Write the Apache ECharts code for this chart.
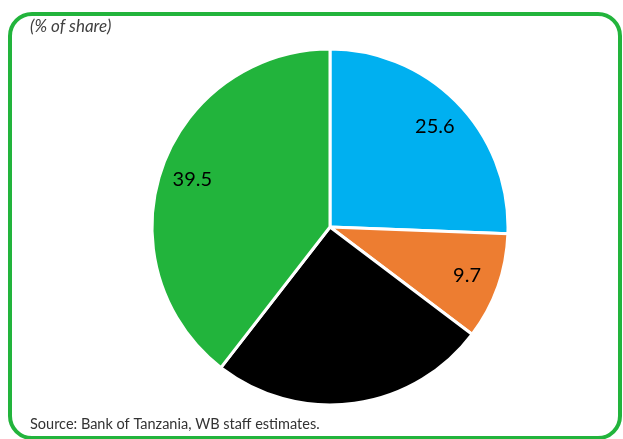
<!DOCTYPE html>
<html>
<head>
<meta charset="utf-8">
<script src="https://cdn.jsdelivr.net/npm/echarts@6/dist/echarts.min.js"></script>
<style>
  html, body { margin: 0; padding: 0; background: #fff; }
  #chart { width: 623px; height: 439px; }
</style>
</head>
<body>
<div id="chart"></div>
<script>
// share values, clockwise from 12 o'clock
var sliceNames = ['A', 'B', 'C', 'D'];
var sliceValues = [25.6, 9.7, 25.2, 39.5];
var sliceColors = ['#00b0f0', '#ed7d31', '#000000', '#22b43c'];
var showLabel = [true, true, false, true];

var myChart = echarts.init(document.getElementById('chart'));

var pieData = [];
var labelData = [];
for (var i = 0; i < sliceValues.length; i++) {
    pieData.push({
        name: sliceNames[i],
        value: sliceValues[i],
        itemStyle: { color: sliceColors[i] }
    });
    labelData.push({
        name: sliceNames[i],
        value: sliceValues[i],
        label: { show: showLabel[i] }
    });
}

var option = {
    animation: false,
    graphic: [
        {
            type: 'rect',
            shape: { x: 10, y: 14, width: 610, height: 424, r: 22 },
            style: { fill: 'none', stroke: '#22b43c', lineWidth: 4 }
        },
        {
            type: 'text',
            left: 30, top: 18,
            style: {
                text: '(% of share)',
                font: 'italic 17px Lato, "Open Sans", sans-serif',
                fill: '#404040'
            }
        },
        {
            type: 'text',
            left: 30, top: 417,
            style: {
                text: 'Source: Bank of Tanzania, WB staff estimates.',
                font: '14.5px Lato, "Open Sans", sans-serif',
                fill: '#333333'
            }
        }
    ],
    series: [
        {
            type: 'pie',
            center: [330, 227],
            radius: [0, 178],
            startAngle: 90,
            clockwise: true,
            label: { show: false },
            labelLine: { show: false },
            itemStyle: { borderColor: '#ffffff', borderWidth: 3 },
            emphasis: { disabled: true },
            data: pieData
        },
        {
            // transparent ring used only to place the value labels at ~80% radius
            type: 'pie',
            center: [330, 227],
            radius: [107, 178],
            startAngle: 90,
            clockwise: true,
            silent: true,
            itemStyle: { color: 'rgba(0,0,0,0)' },
            label: {
                show: true,
                position: 'inside',
                formatter: '{c}',
                color: '#000000',
                fontSize: 20,
                fontFamily: 'Lato, "Open Sans", sans-serif'
            },
            labelLine: { show: false },
            emphasis: { disabled: true },
            data: labelData
        }
    ]
};
myChart.setOption(option);
</script>
</body>
</html>
